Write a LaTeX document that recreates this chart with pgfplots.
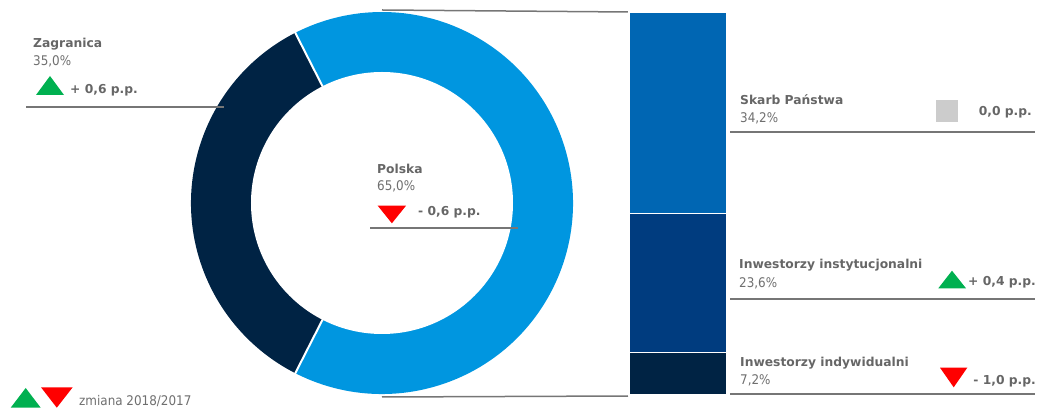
\documentclass[border=0pt]{standalone}
\usepackage{pgfplots}
\pgfplotsset{compat=1.18}
\usepackage{fontspec}
\setmainfont{DejaVu Sans}
\newfontfamily\pctfont{DejaVu Sans Condensed}
\definecolor{cLight}{RGB}{0,150,224}
\definecolor{cDark}{RGB}{0,35,68}
\definecolor{cTop}{RGB}{0,102,179}
\definecolor{cMid}{RGB}{0,60,127}
\definecolor{cText}{RGB}{102,102,102}
\definecolor{cPct}{RGB}{111,111,111}
\definecolor{cLine}{RGB}{118,118,118}
\definecolor{cUp}{RGB}{0,176,80}
\definecolor{cDown}{RGB}{255,0,0}
\definecolor{cSame}{RGB}{204,204,204}
% data
\def\zagr{35.0}
\def\pol{65.0}
\newcommand{\hd}[1]{{\fontsize{12.3bp}{14bp}\selectfont\bfseries\color{cText}#1}}
\newcommand{\pc}[1]{{\pctfont\fontsize{13.3bp}{15bp}\selectfont\color{cPct}#1}}
\begin{document}
\begin{tikzpicture}
\begin{axis}[at={(0,0)}, anchor=south west, width=1040bp, height=408bp, scale only axis,
  xmin=0, xmax=1040, ymin=0, ymax=408, hide axis, clip=false]
\pgfmathsetmacro{\zs}{180-\zagr*1.8}
\pgfmathsetmacro{\ze}{180+\zagr*1.8}
\pgfmathsetmacro{\pe}{\ze+\pol*3.6}
% donut
\fill[cDark] (axis cs:382,205) -- ++(\zs:191bp) arc[start angle=\zs, end angle=\ze, radius=191bp] -- cycle;
\fill[cLight] (axis cs:382,205) -- ++(\ze:191bp) arc[start angle=\ze, end angle=\pe, radius=191bp] -- cycle;
\draw[white, line width=2bp] (axis cs:382,205) -- ++(\zs:192bp);
\draw[white, line width=2bp] (axis cs:382,205) -- ++(\ze:192bp);
\fill[white] (axis cs:382,205) circle[radius=131bp];
% connectors
\draw[cLine, line width=1.5bp] (axis cs:382,398) -- (axis cs:628,396);
\draw[cLine, line width=1.5bp] (axis cs:382,11) -- (axis cs:628,12);
% separator lines
\draw[cLine, line width=2bp] (axis cs:26,301.3) -- (axis cs:224,301.3);
\draw[cLine, line width=2bp] (axis cs:370,179.7) -- (axis cs:518,179.7);
\draw[cLine, line width=2bp] (axis cs:730,276.3) -- (axis cs:1035,276.3);
\draw[cLine, line width=2bp] (axis cs:730,108.7) -- (axis cs:1035,108.7);
\draw[cLine, line width=2bp] (axis cs:730,14) -- (axis cs:1035,14);
% symbols
\fill[cUp] (axis cs:36,313) -- (axis cs:64,313) -- (axis cs:50,332) -- cycle;
\fill[cDown] (axis cs:377.7,202.3) -- (axis cs:406,202.3) -- (axis cs:391.9,184.7) -- cycle;
\fill[cSame] (axis cs:936,286) rectangle (axis cs:958,308);
\fill[cUp] (axis cs:938.3,119.7) -- (axis cs:966,119.7) -- (axis cs:952,137.3) -- cycle;
\fill[cDown] (axis cs:940,40.3) -- (axis cs:967.3,40.3) -- (axis cs:953.7,20.7) -- cycle;
\fill[cUp] (axis cs:10.7,0.3) -- (axis cs:40.7,0.3) -- (axis cs:25.7,20) -- cycle;
\fill[cDown] (axis cs:41,20.7) -- (axis cs:72.7,20.7) -- (axis cs:56.8,0.3) -- cycle;
% texts
\begin{scope}[every node/.style={inner sep=0pt, anchor=base west}]
\node at (axis cs:33,360.7) {\hd{Zagranica}};
\node at (axis cs:33,342) {\pc{35,0\%}};
\node at (axis cs:70,314) {\hd{+ 0,6 p.p.}};
\node at (axis cs:377,234) {\hd{Polska}};
\node at (axis cs:377,217.3) {\pc{65,0\%}};
\node at (axis cs:418,192.3) {\hd{- 0,6 p.p.}};
\node at (axis cs:740,303) {\hd{Skarb Państwa}};
\node at (axis cs:740,285.3) {\pc{34,2\%}};
\node[anchor=base east] at (axis cs:1032,292) {\hd{0,0 p.p.}};
\node at (axis cs:739,139) {\hd{Inwestorzy instytucjonalni}};
\node at (axis cs:739,120.7) {\pc{23,6\%}};
\node[anchor=base east] at (axis cs:1036,122.3) {\hd{+ 0,4 p.p.}};
\node at (axis cs:740,41.3) {\hd{Inwestorzy indywidualni}};
\node at (axis cs:740,23) {\pc{7,2\%}};
\node[anchor=base east] at (axis cs:1036,23) {\hd{- 1,0 p.p.}};
\node at (axis cs:79,2.3) {\pc{zmiana 2018/2017}};
\end{scope}
\end{axis}
\begin{axis}[at={(629bp,13bp)}, anchor=south west, width=98bp, height=383bp, scale only axis,
  xmin=0, xmax=1, ymin=0, ymax=65, hide axis, ybar stacked, bar width=98bp, clip=false]
\addplot[fill=cDark, draw=white, line width=1.5bp] coordinates {(0.5,7.2)};
\addplot[fill=cMid, draw=white, line width=1.5bp] coordinates {(0.5,23.6)};
\addplot[fill=cTop, draw=white, line width=1.5bp] coordinates {(0.5,34.2)};
\end{axis}
\pgfresetboundingbox
\useasboundingbox (0,0) rectangle (1040bp,408bp);
\end{tikzpicture}
\end{document}
